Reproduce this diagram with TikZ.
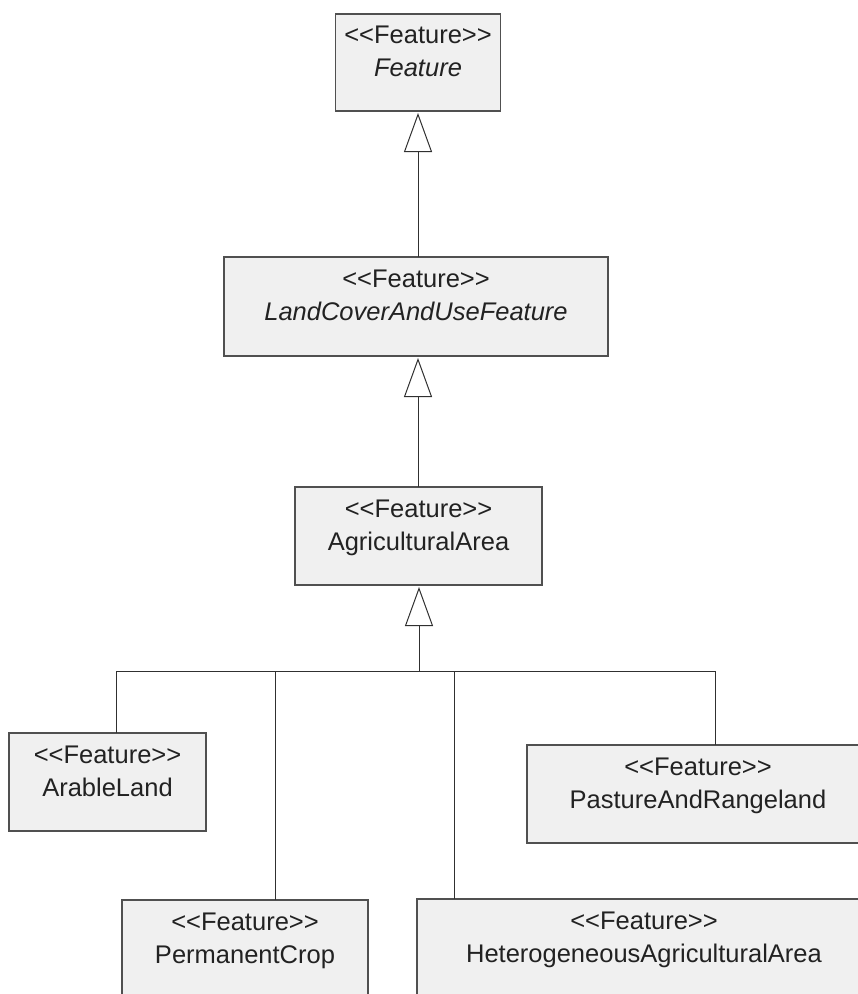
\documentclass[tikz,border=0pt]{standalone}
\usepackage{fontspec}
\newfontfamily\umlfont{Liberation Sans}[Ligatures=ResetAll]
\usetikzlibrary{arrows.meta}
\definecolor{boxfill}{HTML}{F0F0F0}
\definecolor{boxline}{HTML}{505050}
\definecolor{txtcol}{HTML}{222222}
\definecolor{linecol}{HTML}{303030}
\begin{document}
\begin{tikzpicture}[x=1bp,y=-1bp,
  umlbox/.style={draw=boxline, fill=boxfill, line width=1.3bp, inner sep=0pt, outer sep=0pt},
  umltext/.style={anchor=north, inner sep=0pt, align=center, text=txtcol, font=\umlfont\fontsize{25.5bp}{33bp}\selectfont},
  conn/.style={draw=linecol, line width=1bp},
  gen/.style={conn, -{Triangle[open, length=39bp, width=28bp, line width=1bp]}, shorten >=2bp}]
\useasboundingbox (0,0) rectangle (858,994);
\clip (0,0) rectangle (858,994);

% boxes
\node[umlbox, minimum width=165bp, minimum height=97bp] (feat) at (418,62.5) {};
\node[umltext] (featT) at ([yshift=-12bp]feat.north) {<<Feature>>\\\textit{Feature}};

\node[umlbox, minimum width=384bp, minimum height=99bp] (lcu) at (416,306.5) {};
\node[umltext] (lcuT) at ([yshift=-12.7bp]lcu.north) {<<Feature>>\\\textit{LandCoverAndUseFeature}};

\node[umlbox, minimum width=247bp, minimum height=98bp] (agr) at (418.5,536) {};
\node[umltext] (agrT) at ([yshift=-12.7bp]agr.north) {<<Feature>>\\AgriculturalArea};

\node[umlbox, minimum width=197bp, minimum height=98bp] (arable) at (107.5,782) {};
\node[umltext] (arableT) at ([yshift=-12.7bp]arable.north) {<<Feature>>\\ArableLand};

\node[umlbox, minimum width=342bp, minimum height=98bp] (pasture) at (698,794) {};
\node[umltext] (pastureT) at ([yshift=-12.7bp]pasture.north) {<<Feature>>\\PastureAndRangeland};

\node[umlbox, minimum width=246bp, minimum height=98bp] (perm) at (245,949) {};
\node[umltext] (permT) at ([yshift=-12.7bp]perm.north) {<<Feature>>\\PermanentCrop};

\node[umlbox, minimum width=454bp, minimum height=98bp] (het) at (644,948) {};
\node[umltext] (hetT) at ([yshift=-12.7bp]het.north) {<<Feature>>\\HeterogeneousAgriculturalArea};

% generalisations
\draw[gen] (lcu.north -| feat.south) -- (feat.south);
\draw[gen] (agr.north -| feat.south) -- (lcu.south -| feat.south);

\coordinate (bar) at (419,671);
\coordinate (jA) at (116,671);
\coordinate (jP) at (275,671);
\coordinate (jH) at (454,671);
\coordinate (jR) at (715,671);
\draw[gen] (bar) -- (bar |- agr.south);
\draw[conn] (jA) -- (jR);
\draw[conn] (jA) -- (jA |- arable.north);
\draw[conn] (jP) -- (jP |- perm.north);
\draw[conn] (jH) -- (jH |- het.north);
\draw[conn] (jR) -- (jR |- pasture.north);
\end{tikzpicture}
\end{document}
